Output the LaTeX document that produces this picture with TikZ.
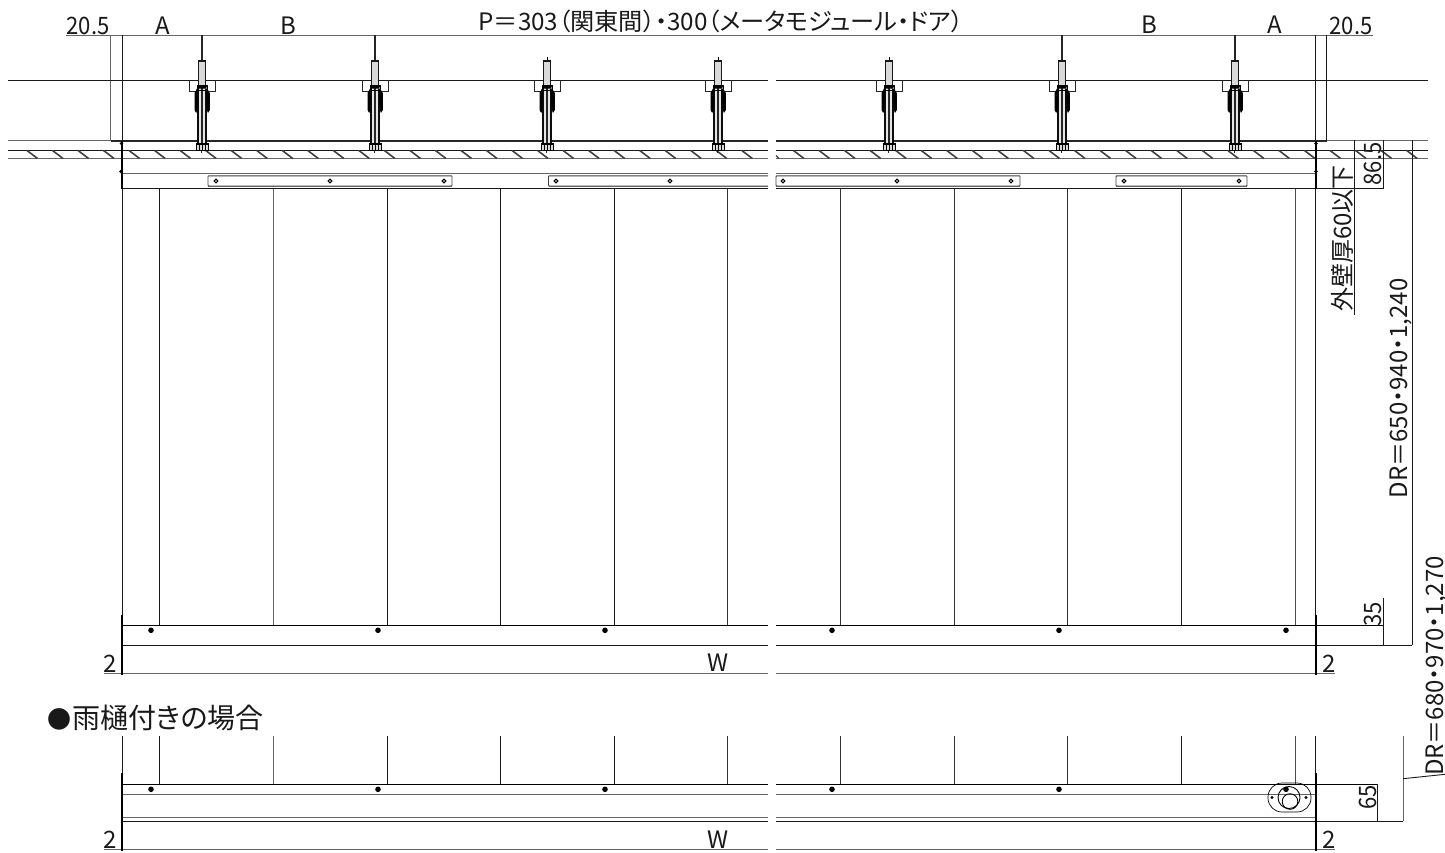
\documentclass[tikz,border=0pt]{standalone}
\usepackage{fontspec}
\usepackage{graphicx}
\setmainfont{Noto Sans CJK JP}[RawFeature=+palt]
\begin{document}
\begin{tikzpicture}[x=1pt,y=-1pt,
  thin line/.style={line width=0.9pt,black!90},
  gray line/.style={line width=1pt,black!60},
  heavy line/.style={line width=2pt,black},
  dim text/.style={font=\fontsize{24}{24}\selectfont,inner sep=0pt,text=black!90},
  rail/.style={line width=0.9pt,draw=black!75,fill=white,rounded corners=0.8pt}]
\useasboundingbox (0,0) rectangle (1445,852);
\newcommand{\bolt}[2]{%
  \begin{scope}[shift={(#1,0)}]
    \ifnum#2=1 \draw[line width=1.1pt,black!85] (0,35)--(0,61); \else \draw[line width=0.8pt] (0,57)--(0,61); \fi
    \draw[line width=1.1pt,black!90,fill=black!15] (-3.2,88)--(-3.2,61)--(3.2,61)--(3.2,88)--cycle;
    \draw[line width=0.9pt,black!85] (-12.5,80)--(-12.5,91)--(-6,91) (6,91)--(13,91)--(13,80);
    \fill[black!10] (-3.5,88) rectangle (3.5,143);
    \draw[line width=2.1pt,black!95] (-3.6,89)--(-3.6,143) (3.8,89)--(3.8,143);
    \draw[line width=0.7pt,black!85] (-0.8,85)--(-0.8,153) (0.8,85)--(0.8,143);
    \fill[black] (-7.5,93)--(-7.5,110)--(-5.8,113)--(-4.5,110)--(-3.5,89)--(-5,86)--(-2.5,85)--(2.5,85)--(5,86)--(3.8,89)--(4.8,110)--(6,113)--(7.8,110)--(7.8,93)--(5,88.5)--(-5,88.5)--cycle;
    \draw[line width=1pt,black] (-5,85.5) rectangle (5,90);
    \draw[line width=0.8pt,black,fill=black!15] (-6,143.5) rectangle (6,150);
    \draw[line width=1.7pt,black] (-6,144)--(6,144);
    \draw[line width=0.7pt,black] (-3,144)--(-3,150) (0,144)--(0,150) (3,144)--(3,150);
  \end{scope}}
\newcommand{\holeat}[1]{\draw[line width=1.1pt,black,fill=white] (#1,181) circle (1.9);}
\newcommand{\screwat}[2]{\fill[black] (#1,#2) circle (2.8);}

% top dimension line
\draw[gray line,line width=0.9pt] (66,35)--(1373,35);
\draw[gray line] (110.7,35)--(110.7,140);
\draw[thin line] (122.5,35)--(122.5,626);
\draw[thin line] (1315,35)--(1315,626);
\draw[thin line] (1326.3,35)--(1326.3,140);

% ceiling lines
\draw[thin line] (8,80.5)--(768,80.5) (776,80.5)--(1428,80.5);
\draw[gray line,line width=0.8pt] (8,140)--(111,140) (1326,140)--(1428,140);
\draw[heavy line,black!85] (111,140.7)--(768,140.7) (776,140.7)--(1327,140.7);
\draw[thin line] (8,150.3)--(768,150.3) (776,150.3)--(1428,150.3);
\draw[gray line,line width=1.3pt] (8,158.8)--(768,158.8) (776,158.8)--(1428,158.8);
% hatching
\foreach \h in {0,...,28} {\pgfmathsetmacro{\hx}{27+25.53*\h}
  \draw[line width=1.6pt,black!75] (\hx,150.5)--(\hx+10.5,158.5);}
\draw[line width=1.2pt,black!75] (776,155.5)--(779,158.5);
\foreach \h in {0,...,24} {\pgfmathsetmacro{\hx}{793.5+25.55*\h}
  \draw[line width=1.6pt,black!75] (\hx,150.5)--(\hx+10.5,158.5);}

% bolts
\bolt{202}{1}\bolt{375}{1}\bolt{547}{0}\bolt{718}{0}\bolt{889}{0}\bolt{1062}{1}\bolt{1235}{1}

% head rail
\draw[gray line,line width=1.3pt] (122,173.8)--(768,173.8) (776,173.8)--(1315,173.8);
\draw[thin line] (122,188.7)--(768,188.7) (776,188.7)--(1383,188.7);
\draw[rail] (208,175.8) rectangle (452,186);
\draw[rail] (768,175.8)--(548.5,175.8)--(548.5,186)--(768,186);
\draw[rail] (776,175.8)--(1020,175.8)--(1020,186)--(776,186)--cycle;
\draw[rail] (1116,175.8) rectangle (1247,186);
\draw[gray line,line width=0.9pt] (208,186.5)--(452,186.5) (548.5,186.5)--(768,186.5) (776,186.5)--(1020,186.5) (1116,186.5)--(1247,186.5);
\foreach \p in {216,330,444,556,670,783,897,1011,1124,1239} {\holeat{\p}}
\draw[heavy line] (121.7,141)--(121.7,189) (1315.5,141)--(1315.5,189);
\fill (121.5,143.5) circle (1.8) (121,171.5) circle (1.8) (1316,143.5) circle (1.8) (1316,171.5) circle (1.8);

% slats
\foreach \p/\c in {159.5/90,273/60,387/90,500.5/90,614/90,727.5/80,840.5/80,954/80,1067.5/80,1181/90,1295/70} {
  \draw[line width=0.9pt,black!\c] (\p,188.7)--(\p,626);
  \draw[line width=0.9pt,black!\c] (\p,736)--(\p,784);}
\draw[thin line] (122.5,736)--(122.5,784) (1315,736)--(1315,784);

% bottom rail
\draw[line width=1pt,black] (122,625.5)--(768,625.5) (776,625.5)--(1383,625.5);
\draw[thin line] (122,645)--(768,645) (776,645)--(1412,645);
\draw[gray line,line width=1.2pt] (104,673.5)--(768,673.5) (776,673.5)--(1335,673.5);
\draw[heavy line] (122,615)--(122,675) (1315.5,615)--(1315.5,675);
\foreach \p in {151,378,605,832,1059,1286} {\screwat{\p}{630.3}}

% gutter variant
\draw[line width=1pt,black] (122,784.3)--(768,784.3) (776,784.3)--(1377,784.3);
\draw[gray line] (122,794.3)--(768,794.3) (776,794.3)--(1315,794.3);
\draw[gray line,line width=1.1pt] (122,817.2)--(768,817.2) (776,817.2)--(1315,817.2);
\draw[thin line] (122,821)--(768,821) (776,821)--(1403,821);
\draw[gray line,line width=1.2pt] (104,849.5)--(768,849.5) (776,849.5)--(1335,849.5);
\draw[heavy line] (122,773)--(122,851) (1315.5,773)--(1315.5,851);
\foreach \p in {151,378,605,832,1059} {\screwat{\p}{789.3}}
\draw[line width=0.7pt,black,rounded corners=14pt] (1268,783) rectangle (1311,812);
\draw[line width=0.9pt,black] (1289,797.5) circle (11);
\draw[line width=0.9pt,black] (1290,801.5) circle (7.8);
\screwat{1286}{789.3}
\fill (1272,797.5) circle (1.6) (1306,797.5) circle (1.6);

% right dimensions
\draw[thin line] (1354.3,140)--(1354.3,315);
\draw[thin line] (1383,140)--(1383,189);
\draw[thin line] (1383,598)--(1383,645);
\draw[thin line] (1412,140)--(1412,645);
\draw[thin line] (1377.3,784)--(1377.3,821);
\draw[gray line] (1403,736)--(1403,821);
\coordinate (drA) at (1403,778.7);
\coordinate (drB) at (1445,774.3);
\draw[thin line] (drA)--(drB);

% texts
\node[dim text,anchor=base] (p) at (721,30) {\scalebox{1.008}[1]{P＝303（関東間）・300（メータモジュール・ドア）}};
\node[dim text,anchor=base] (l205) at (88,34) {\scalebox{0.92}[1]{20.5}};
\node[dim text,anchor=base] (r205) at (1351,34) {\scalebox{0.92}[1]{20.5}};
\node[dim text,anchor=base] (a1) at (163,34) {A};
\node[dim text,anchor=base] (b1) at (288,34) {B};
\node[dim text,anchor=base] (b2) at (1149,33) {B};
\node[dim text,anchor=base] (a2) at (1275,33) {A};
\node[dim text,anchor=base] (w1) at (718,671.5) {W};
\node[dim text,anchor=base] (w2) at (718,848) {W};
\node[dim text,anchor=base] (t2a) at (110,672.5) {2};
\node[dim text,anchor=base] (t2b) at (1329,672.5) {2};
\node[dim text,anchor=base] (t2c) at (110,848.5) {2};
\node[dim text,anchor=base] (t2d) at (1329,848.5) {2};
\node[inner sep=0pt,font=\fontsize{28}{28}\selectfont,anchor=base west,text=black!90] (ttl) at (47,728) {{\fontsize{24}{24}\selectfont ●}\hspace{1pt}雨樋付きの場合};
\node[dim text,rotate=90,anchor=base east] (wall) at (1351,165) {外壁厚60以下};
\node[dim text,rotate=90,anchor=base] (d865) at (1381,164) {\scalebox{0.92}[1]{86.5}};
\node[dim text,rotate=90,anchor=base] (d35) at (1381,614) {\scalebox{0.92}[1]{35}};
\node[dim text,rotate=90,anchor=base] (d65) at (1376,797) {\scalebox{0.92}[1]{65}};
\node[dim text,rotate=90,anchor=base] (dr1) at (1407,388.5) {DR＝650・940・1,240};
\node[dim text,rotate=90,anchor=base] (dr2) at (1443,666) {DR＝680・970・1,270};
\end{tikzpicture}
\end{document}
